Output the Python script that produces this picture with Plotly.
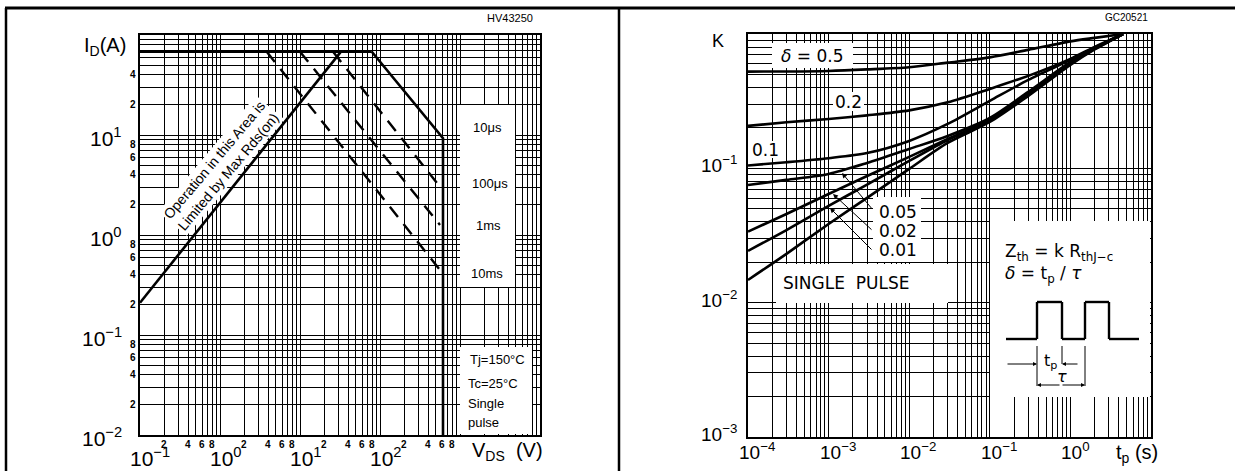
import math
import plotly.graph_objects as go

W, H = 1235, 471

# ---------------- Data: Safe Operating Area (left) ----------------
idm_v = [0.1, 79.0]
idm_i = [68.0, 68.0]
rds_v = [0.1, 32.0]
rds_i = [0.21, 67.0]
p10us_v = [79.0, 613.0, 613.0]
p10us_i = [68.0, 9.3, 0.01]
p100us_v = [25.9, 562.0]
p100us_i = [68.0, 3.04]
p1ms_v = [10.0, 562.0]
p1ms_i = [68.0, 1.26]
p10ms_v = [3.84, 562.0]
p10ms_i = [68.0, 0.447]

soa_x_major = [0.1, 1, 10, 100]
soa_x_major_text = ["10<sup>−1</sup>", "10<sup>0</sup>", "10<sup>1</sup>", "10<sup>2</sup>"]
soa_y_major = [0.01, 0.1, 1, 10]
soa_y_major_text = ["10<sup>−2</sup>", "10<sup>−1</sup>", "10<sup>0</sup>", "10<sup>1</sup>"]
minor_digits = [2, 4, 6, 8]

# ---------------- Data: Thermal impedance (right) ----------------
tp = [1e-4, 3e-4, 1e-3, 3e-3, 1e-2, 3e-2, 0.1, 0.3, 1.0, 2.0, 4.5]
k_05 = [0.525, 0.526, 0.531, 0.545, 0.566, 0.612, 0.670, 0.762, 0.881, 0.936, 1.0]
k_02 = [0.207, 0.220, 0.233, 0.248, 0.270, 0.310, 0.390, 0.488, 0.653, 0.802, 1.0]
k_01 = [0.105, 0.111, 0.119, 0.130, 0.160, 0.214, 0.318, 0.455, 0.641, 0.789, 1.0]
k_005 = [0.0751, 0.0820, 0.0908, 0.1096, 0.1393, 0.1741, 0.237, 0.371, 0.620, 0.785, 1.0]
k_002 = [0.0338, 0.0457, 0.0644, 0.0877, 0.1216, 0.1656, 0.229, 0.358, 0.609, 0.781, 1.0]
k_001 = [0.0243, 0.0347, 0.0525, 0.0757, 0.1135, 0.1626, 0.2254, 0.352, 0.598, 0.774, 1.0]
k_single = [0.01476, 0.0231, 0.0385, 0.0603, 0.0991, 0.1545, 0.2213, 0.346, 0.589, 0.767, 1.0]

zth_x_major = [1e-4, 1e-3, 1e-2, 1e-1, 1]
zth_x_major_text = ["10<sup>−4</sup>", "10<sup>−3</sup>", "10<sup>−2</sup>", "10<sup>−1</sup>", "10<sup>0</sup>"]
zth_y_major = [1e-3, 1e-2, 1e-1]
zth_y_major_text = ["10<sup>−3</sup>", "10<sup>−2</sup>", "10<sup>−1</sup>"]

# ---------------- geometry helpers (layout only) ----------------
L_X0, L_X1, L_Y0, L_Y1 = 140, 540, 35, 435      # pixel box of left plot
R_X0, R_X1, R_Y0, R_Y1 = 748, 1151, 34, 437     # pixel box of right plot
L_XR, L_YR = [-1, 4], [-2, 2]
R_XR, R_YR = [-4, 1], [-3, 0]


def px(x):
    return x / W


def py(y):
    return 1 - y / H


def lx(p):
    return L_XR[0] + (p - L_X0) / (L_X1 - L_X0) * (L_XR[1] - L_XR[0])


def ly(p):
    return L_YR[0] + (L_Y1 - p) / (L_Y1 - L_Y0) * (L_YR[1] - L_YR[0])


def rx(p):
    return R_XR[0] + (p - R_X0) / (R_X1 - R_X0) * (R_XR[1] - R_XR[0])


def ry(p):
    return R_YR[0] + (R_Y1 - p) / (R_Y1 - R_Y0) * (R_YR[1] - R_YR[0])


def grid_vals(n0, n1):
    vals = []
    for n in range(n0, n1):
        for k in range(1, 10):
            vals.append(k * 10.0 ** n)
    vals.append(10.0 ** n1)
    return vals


FONT = "Liberation Sans, Arial, sans-serif"
FONT2 = "DejaVu Sans, Liberation Sans, sans-serif"

fig = go.Figure()

# ---------------- left traces ----------------
solid = dict(color="black", width=2.6)
dashed = dict(color="black", width=2.4, dash="13px,9px")
fig.add_trace(go.Scatter(x=idm_v, y=idm_i, mode="lines", line=solid, xaxis="x", yaxis="y"))
fig.add_trace(go.Scatter(x=rds_v, y=rds_i, mode="lines", line=solid, xaxis="x", yaxis="y"))
fig.add_trace(go.Scatter(x=p10us_v, y=p10us_i, mode="lines", line=solid, xaxis="x", yaxis="y"))
fig.add_trace(go.Scatter(x=p100us_v, y=p100us_i, mode="lines", line=dashed, xaxis="x", yaxis="y"))
fig.add_trace(go.Scatter(x=p1ms_v, y=p1ms_i, mode="lines", line=dashed, xaxis="x", yaxis="y"))
fig.add_trace(go.Scatter(x=p10ms_v, y=p10ms_i, mode="lines", line=dashed, xaxis="x", yaxis="y"))

# ---------------- right traces ----------------
for kv in [k_05, k_02, k_01, k_005, k_002, k_001, k_single]:
    fig.add_trace(go.Scatter(x=tp, y=kv, mode="lines",
                             line=dict(color="black", width=2.6, shape="spline", smoothing=0.8),
                             xaxis="x2", yaxis="y2"))

axis_common = dict(type="log", showticklabels=False, ticks="", showgrid=True, gridcolor="black", gridwidth=1,
                   showline=True, linecolor="black", linewidth=2, mirror=True, zeroline=False, tickmode="array")

fig.update_layout(
    width=W, height=H, autosize=False,
    margin=dict(l=0, r=0, t=0, b=0),
    paper_bgcolor="white", plot_bgcolor="white",
    showlegend=False,
    xaxis=dict(axis_common, domain=[px(L_X0), px(L_X1)], range=L_XR, tickvals=grid_vals(-1, 4), anchor="y"),
    yaxis=dict(axis_common, domain=[py(L_Y1), py(L_Y0)], range=L_YR, tickvals=grid_vals(-2, 2), anchor="x"),
    xaxis2=dict(axis_common, domain=[px(R_X0), px(R_X1)], range=R_XR, tickvals=grid_vals(-4, 1), anchor="y2"),
    yaxis2=dict(axis_common, domain=[py(R_Y1), py(R_Y0)], range=R_YR, tickvals=grid_vals(-3, 0), anchor="x2"),
)

shapes = []
ann = []


# shapes on log axes take data values (not logs)
def lbox(x0, y0, x1, y1):
    shapes.append(dict(type="rect", xref="x", yref="y", layer="above",
                       x0=10 ** lx(x0), x1=10 ** lx(x1), y0=10 ** ly(y1), y1=10 ** ly(y0),
                       fillcolor="white", line=dict(width=0)))


def rbox(x0, y0, x1, y1):
    shapes.append(dict(type="rect", xref="x2", yref="y2", layer="above",
                       x0=10 ** rx(x0), x1=10 ** rx(x1), y0=10 ** ry(y1), y1=10 ** ry(y0),
                       fillcolor="white", line=dict(width=0)))


# left white label panels
lbox(460, 105, 515, 287)
lbox(460, 347, 532, 434)
# right white label panels
rbox(772, 43, 853, 68)
rbox(833, 92, 864, 111)
rbox(750, 141, 783, 158)
rbox(873, 197, 921, 262)
rbox(776, 264, 948, 303)
rbox(990, 221, 1150, 397)

# ---- frame of the page ----
shapes.append(dict(type="line", xref="paper", yref="paper", x0=px(5), x1=1, y0=py(8), y1=py(8),
                   line=dict(color="black", width=3)))
shapes.append(dict(type="line", xref="paper", yref="paper", x0=px(6), x1=px(6), y0=py(8), y1=0,
                   line=dict(color="black", width=2.5)))
shapes.append(dict(type="line", xref="paper", yref="paper", x0=px(619), x1=px(619), y0=py(8), y1=0,
                   line=dict(color="black", width=2.5)))


def text(x, y, t, size=13, anchor="center", family=FONT, **kw):
    d = dict(x=px(x), y=py(y), xref="paper", yref="paper", text=t, showarrow=False,
             xanchor=anchor, yanchor="middle", font=dict(family=family, size=size, color="black"))
    d.update(kw)
    ann.append(d)


# ---------------- left axis labels ----------------
for v, t in zip(soa_x_major, soa_x_major_text):
    ann.append(dict(x=math.log10(v), y=py(457), xref="x", yref="paper", text=t, showarrow=False,
                    xanchor="left", yanchor="middle", xshift=-12,
                    font=dict(family=FONT, size=21, color="black")))
for n in range(-1, 3):
    for d in minor_digits:
        ann.append(dict(x=math.log10(d * 10.0 ** n), y=py(444), xref="x", yref="paper", text="<b>%d</b>" % d,
                        showarrow=False, xanchor="center", yanchor="middle",
                        font=dict(family=FONT, size=10, color="black")))
for v, t in zip(soa_y_major, soa_y_major_text):
    ann.append(dict(x=px(124), y=math.log10(v), xref="paper", yref="y", text=t, showarrow=False,
                    xanchor="right", yanchor="middle", yshift=-2,
                    font=dict(family=FONT, size=21, color="black")))
for n in range(-2, 2):
    for d in minor_digits:
        if n == 1 and d > 4:
            continue
        ann.append(dict(x=px(138), y=math.log10(d * 10.0 ** n), xref="paper", yref="y", text="<b>%d</b>" % d,
                        showarrow=False, xanchor="right", yanchor="middle",
                        font=dict(family=FONT, size=10, color="black")))

text(105, 47, "I<sub>D</sub>(A)", size=20)
text(507, 451, "V<sub>DS</sub>  (V)", size=20)
text(535, 18, "HV43250", size=11, anchor="right")

text(487, 128, "10μs", size=13)
text(490, 183, "100μs", size=13)
text(488, 225, "1ms", size=13)
text(487, 273, "10ms", size=13)
text(497, 359, "Tj=150°C", size=13)
text(493, 383, "Tc=25°C", size=13)
text(466, 403, "Single", size=13, anchor="left")
text(466, 422, "pulse", size=13, anchor="left")

ann.append(dict(x=px(221), y=py(166), xref="paper", yref="paper", xanchor="center", yanchor="middle",
                text="Operation in this Area is<br>Limited by Max Rds(on)", showarrow=False,
                textangle=-50, bgcolor="white", borderpad=1, align="center",
                font=dict(family=FONT, size=14, color="black")))

# ---------------- right axis labels ----------------
for v, t in zip(zth_x_major, zth_x_major_text):
    ann.append(dict(x=math.log10(v), y=py(451), xref="x2", yref="paper", text=t, showarrow=False,
                    xanchor="left", yanchor="middle", xshift=-11,
                    font=dict(family=FONT, size=19, color="black")))
for v, t in zip(zth_y_major, zth_y_major_text):
    ann.append(dict(x=px(739), y=math.log10(v), xref="paper", yref="y2", text=t, showarrow=False,
                    xanchor="right", yanchor="middle", yshift=4,
                    font=dict(family=FONT, size=19, color="black")))
text(718, 41, "K", size=18)
text(1137, 453, "t<sub>p</sub> (s)", size=20)
text(1150, 18, "GC20521", size=10, anchor="right")

text(812, 56, "<i>δ</i> = 0.5", size=17, family=FONT2)
text(848, 102, "0.2", size=17, family=FONT2)
text(766, 150, "0.1", size=17, family=FONT2)
text(898, 212, "0.05", size=17, family=FONT2)
text(898, 231, "0.02", size=17, family=FONT2)
text(898, 250, "0.01", size=17, family=FONT2)
text(846, 283, "SINGLE  PULSE", size=17, family=FONT2)
text(1003, 252, "Z<sub>th</sub> = k R<sub>thJ−c</sub>", size=17, anchor="left", family=FONT2)
text(1003, 274, "<i>δ</i> = t<sub>p</sub> / <i>τ</i>", size=17, anchor="left", family=FONT2)


def arrow(hx, hy, tx, ty, head=2, size=1.0, width=1.0):
    ann.append(dict(x=px(hx), y=py(hy), xref="paper", yref="paper", ax=tx - hx, ay=ty - hy,
                    axref="pixel", ayref="pixel", text="", showarrow=True,
                    arrowhead=head, arrowsize=size, arrowwidth=width, arrowcolor="black"))


arrow(842, 173, 873, 210)
arrow(833, 194, 873, 231)
arrow(830, 208, 873, 251)


# pulse diagram
def pline(x0, y0, x1, y1, w=1.0):
    shapes.append(dict(type="line", xref="paper", yref="paper", x0=px(x0), y0=py(y0), x1=px(x1), y1=py(y1),
                       line=dict(color="black", width=w)))


wave = [(1006, 339), (1037, 339), (1037, 302), (1062, 302), (1062, 339), (1085, 339),
        (1085, 302), (1109, 302), (1109, 339), (1139, 339)]
for (a, b), (c, d) in zip(wave[:-1], wave[1:]):
    pline(a, b, c, d, 2.4)
pline(1037, 346, 1037, 386)
pline(1062, 346, 1062, 364)
pline(1085, 346, 1085, 386)
arrow(1037, 364, 1006, 364, head=2, size=0.8)
arrow(1062, 364, 1079, 364, head=2, size=0.8)
arrow(1037, 385, 1061, 385, head=2, size=0.8)
arrow(1085, 385, 1061, 385, head=2, size=0.8)
text(1050, 361, "t<sub>p</sub>", size=16, family=FONT2)
text(1062, 376, "<i>τ</i>", size=16, family=FONT2)

fig.update_layout(shapes=shapes, annotations=ann)
fig.write_html("out.html", config={"displayModeBar": False},
               post_script="document.body.style.margin='0px';document.body.style.overflow='hidden';")
